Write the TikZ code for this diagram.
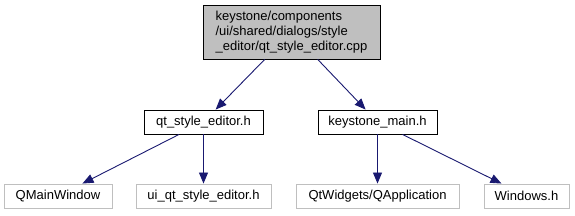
\documentclass[tikz,border=0pt]{standalone}
\usepackage{xcolor}
\usepackage{fontspec}
\setmainfont{Liberation Sans}
\usepackage{tikz}
\usetikzlibrary{positioning,arrows.meta}

\definecolor{edgeblue}{HTML}{191970}
\definecolor{boxgray}{HTML}{BFBFBF}

\begin{document}
\begin{tikzpicture}[
  x=1pt, y=-1pt,
  font=\fontsize{13}{15}\selectfont,
  box/.style={draw, line width=0.9pt, minimum height=24pt, inner sep=0pt, align=center, fill=white},
  srcbox/.style={box, fill=boxgray, minimum width=177pt, minimum height=54pt, align=left},
  extbox/.style={box, draw=boxgray},
  arr/.style={-{Triangle[length=11pt,width=9pt]}, edgeblue, line width=0.9pt}
]
\useasboundingbox (0,0) rectangle (575,216);

\node[srcbox] (src) at (291.5,32) {keystone/components\\/ui/shared/dialogs/style\\\_editor/qt\_style\_editor.cpp};
\node[box, minimum width=119pt] (editorh) at (203.5,122) {qt\_style\_editor.h};
\node[box, minimum width=119pt] (mainh) at (377.5,122) {keystone\_main.h};
\node[extbox, minimum width=108pt] (qmainwin) at (58,196) {QMainWindow};
\node[extbox, minimum width=135pt] (uih) at (203.5,196) {ui\_qt\_style\_editor.h};
\node[extbox, minimum width=163pt] (qapp) at (377.5,196) {QtWidgets/QApplication};
\node[extbox, minimum width=85pt] (winh) at (526.5,196) {Windows.h};

\draw[arr] (src) -- (editorh);
\draw[arr] (src) -- (mainh);
\draw[arr] (editorh) -- (qmainwin);
\draw[arr] (editorh) -- (uih);
\draw[arr] (mainh) -- (qapp);
\draw[arr] (mainh) -- (winh);
\end{tikzpicture}
\end{document}
